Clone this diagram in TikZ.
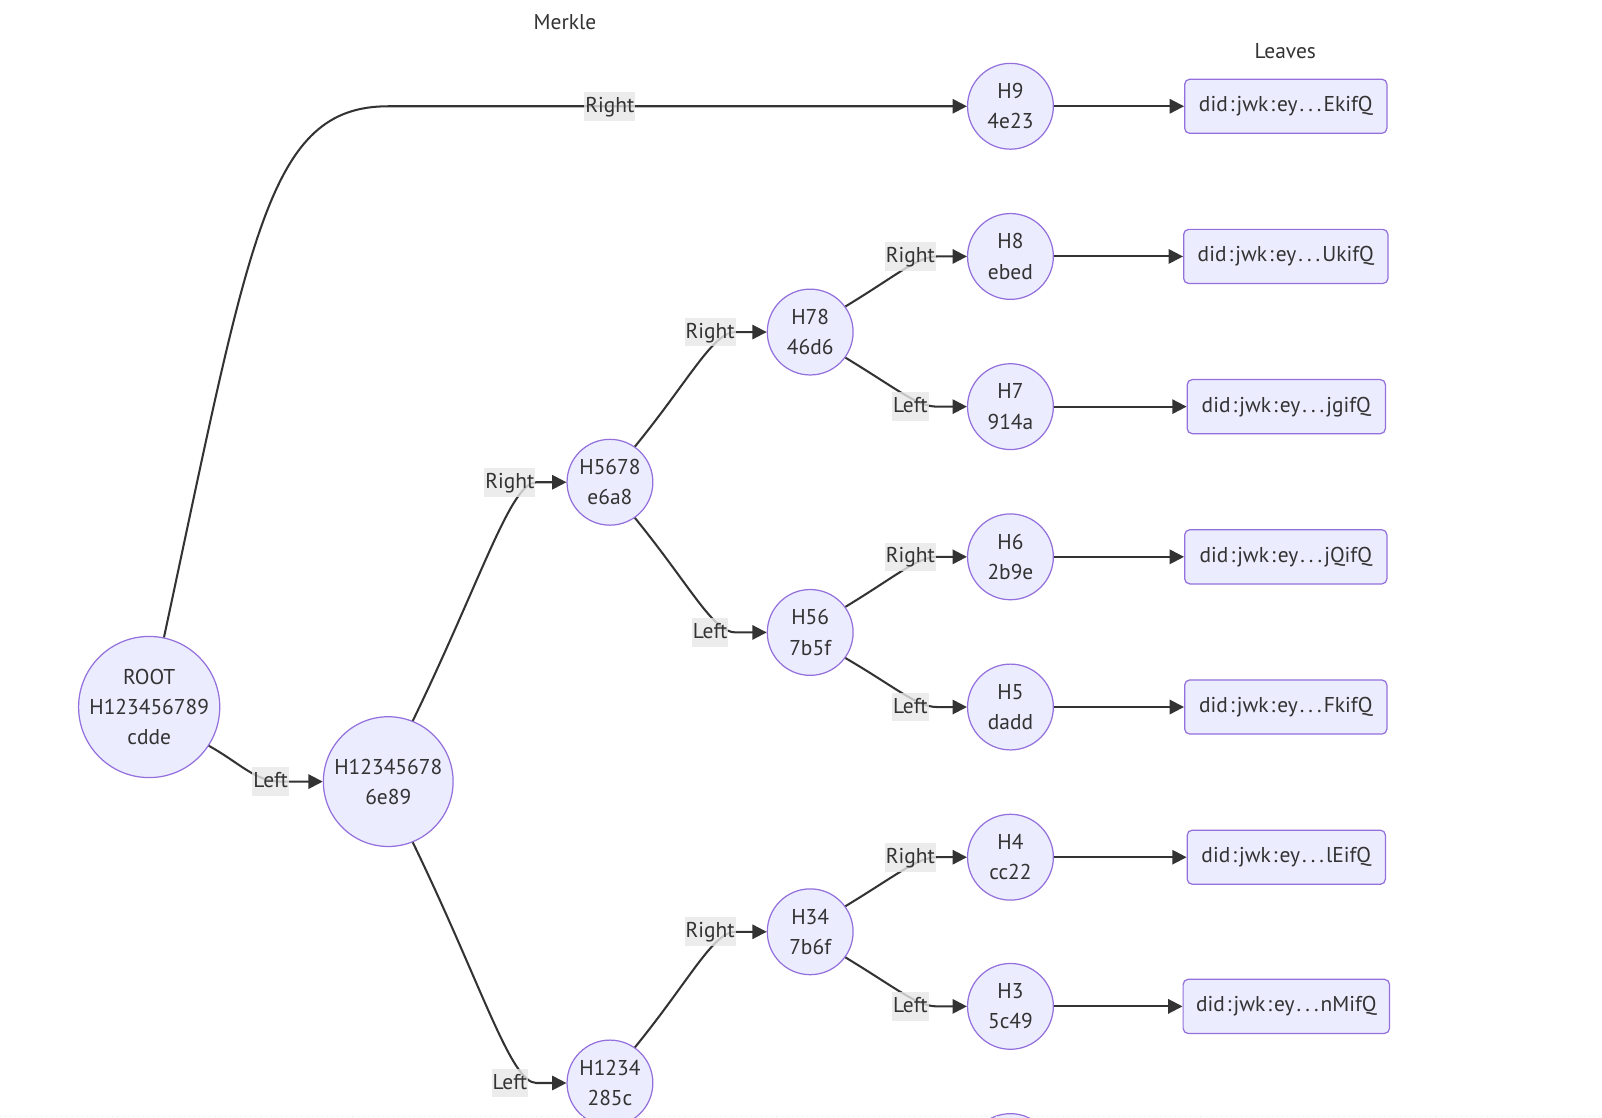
\documentclass[tikz,border=0pt]{standalone}
\usepackage{fontspec}
\setmainfont{PT Sans}
\usetikzlibrary{arrows.meta}
\definecolor{nodefill}{HTML}{ECECFF}
\definecolor{nodeline}{HTML}{9370DB}
\definecolor{ink}{HTML}{333333}
\definecolor{lblbg}{HTML}{E8E8E8}
\newcommand{\lfdot}{\kern1pt.\kern1pt}
\newcommand{\lfcolon}{\kern1pt:\kern1pt}
\begin{document}
\begin{tikzpicture}[x=0.5pt,y=-0.5pt,
  every node/.style={font=\fontsize{10.5}{14.75}\selectfont, text=ink},
  hashnode/.style={circle, draw=nodeline, fill=nodefill, line width=0.6pt, inner sep=0pt, minimum size=42pt, align=center},
  leafbox/.style={rectangle, rounded corners=2.5pt, draw=nodeline, fill=nodefill, line width=0.6pt, inner xsep=0pt, minimum width=99pt, minimum height=26.5pt},
  edgelbl/.style={fill=lblbg, fill opacity=0.8, text opacity=1, inner xsep=0.5pt, inner ysep=1pt, text height=9pt, text depth=3pt},
  link/.style={draw=ink, line width=1pt, -{Triangle[length=7pt,width=7pt]}},
  titletext/.style={inner sep=0pt}]
\useasboundingbox (0,0) rectangle (1568,1094);
\clip (0,0) rectangle (1568,1094);
\fill[white] (0,0) rectangle (1568,1094);

% titles
\node[titletext] (tmerkle) at (553,22) {Merkle};
\node[titletext] (tleaves) at (1258,50) {Leaves};

% hash nodes
\node[hashnode, minimum size=69pt] (ROOT) at (146,692) {ROOT\\H123456789\\cdde};
\node[hashnode, minimum size=63.5pt] (H12345678) at (380,765) {H12345678\\6e89};
\node[hashnode] (H5678) at (597,472) {H5678\\e6a8};
\node[hashnode] (H1234) at (597,1060) {H1234\\285c};
\node[hashnode] (H78) at (793,325) {H78\\46d6};
\node[hashnode] (H56) at (793,619) {H56\\7b5f};
\node[hashnode] (H34) at (793,912) {H34\\7b6f};
\node[hashnode] (H9) at (989,104) {H9\\4e23};
\node[hashnode] (H8) at (989,251) {H8\\ebed};
\node[hashnode] (H7) at (989,398) {H7\\914a};
\node[hashnode] (H6) at (989,545) {H6\\2b9e};
\node[hashnode] (H5) at (989,692) {H5\\dadd};
\node[hashnode] (H4) at (989,839) {H4\\cc22};
\node[hashnode] (H3) at (989,985) {H3\\5c49};
\node[hashnode] (Hnext) at (989,1132) {};

% leaf boxes
\node[leafbox] (L9) at (1258.5,104) {did\lfcolon jwk\lfcolon ey\lfdot\lfdot\lfdot EkifQ};
\node[leafbox, minimum width=100pt] (L8) at (1258.5,251) {did\lfcolon jwk\lfcolon ey\lfdot\lfdot\lfdot UkifQ};
\node[leafbox, minimum width=97pt] (L7) at (1259,398) {did\lfcolon jwk\lfcolon ey\lfdot\lfdot\lfdot jgifQ};
\node[leafbox] (L6) at (1258.5,545) {did\lfcolon jwk\lfcolon ey\lfdot\lfdot\lfdot jQifQ};
\node[leafbox] (L5) at (1258.5,692) {did\lfcolon jwk\lfcolon ey\lfdot\lfdot\lfdot FkifQ};
\node[leafbox, minimum width=97pt] (L4) at (1259,839) {did\lfcolon jwk\lfcolon ey\lfdot\lfdot\lfdot lEifQ};
\node[leafbox, minimum width=101pt] (L3) at (1259,985) {did\lfcolon jwk\lfcolon ey\lfdot\lfdot\lfdot nMifQ};

% tree edges
\draw[link] (ROOT.78) .. controls (245,230) and (262,104) .. (380,104) -- (H9.west);
\draw[link] (ROOT.-33) .. controls (235,747) and (250,765) .. (275,765) -- (H12345678.west);
\draw[link] (H12345678.68) .. controls (472,565) and (500,472) .. (525,472) -- (H5678.west);
\draw[link] (H12345678.-68) .. controls (472,965) and (500,1060) .. (525,1060) -- (H1234.west);
\draw[link] (H5678.55) .. controls (676,370) and (698,325) .. (720,325) -- (H78.west);
\draw[link] (H5678.-55) .. controls (676,574) and (698,619) .. (720,619) -- (H56.west);
\draw[link] (H1234.55) .. controls (676,958) and (698,912) .. (720,912) -- (H34.west);
\draw[link] (H78.36) .. controls (877,270) and (898,251) .. (917,251) -- (H8.west);
\draw[link] (H78.-36) .. controls (877,380) and (898,398) .. (917,398) -- (H7.west);
\draw[link] (H56.36) .. controls (877,564) and (898,545) .. (917,545) -- (H6.west);
\draw[link] (H56.-36) .. controls (877,673) and (898,692) .. (917,692) -- (H5.west);
\draw[link] (H34.36) .. controls (877,857) and (898,839) .. (917,839) -- (H4.west);
\draw[link] (H34.-36) .. controls (877,967) and (898,985) .. (917,985) -- (H3.west);

% leaf edges
\draw[link] (H9.east) -- (L9.west);
\draw[link] (H8.east) -- (L8.west);
\draw[link] (H7.east) -- (L7.west);
\draw[link] (H6.east) -- (L6.west);
\draw[link] (H5.east) -- (L5.west);
\draw[link] (H4.east) -- (L4.west);
\draw[link] (H3.east) -- (L3.west);

% edge labels
\node[edgelbl] (e1) at (597,104) {Right};
\node[edgelbl] (e2) at (265,765) {Left};
\node[edgelbl] (e3) at (499,472) {Right};
\node[edgelbl] (e4) at (499,1060) {Left};
\node[edgelbl] (e5) at (695,325) {Right};
\node[edgelbl] (e6) at (695,619) {Left};
\node[edgelbl] (e7) at (695,912) {Right};
\node[edgelbl] (e8) at (891,251) {Right};
\node[edgelbl] (e9) at (891,398) {Left};
\node[edgelbl] (e10) at (891,545) {Right};
\node[edgelbl] (e11) at (891,692) {Left};
\node[edgelbl] (e12) at (891,839) {Right};
\node[edgelbl] (e13) at (891,985) {Left};

\draw[gray!15, line width=0.5pt, dotted] (0,1093) -- (1568,1093);
\end{tikzpicture}
\end{document}
